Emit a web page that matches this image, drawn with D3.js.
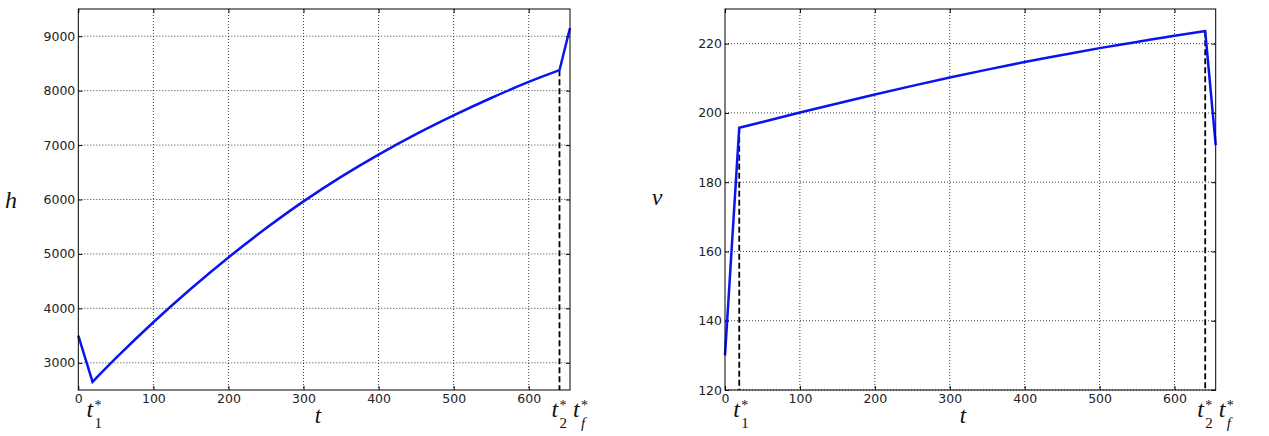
<!DOCTYPE html>
<html>
<head>
<meta charset="utf-8">
<script src="https://cdn.jsdelivr.net/npm/d3@7"></script>
<style>
  body { margin: 0; background: #fff; }
  .tick text { font-family: "DejaVu Sans", sans-serif; font-size: 12.5px; fill: #222; }
  .sym { font-family: "Liberation Serif", serif; font-style: italic; fill: #111; }
</style>
</head>
<body>
<script>
// switching times (s)
var t1 = 19, t2 = 641, tf = 655;

// altitude h(t)
var tH = [0, 19, 50, 100, 150, 200, 250, 300, 350, 400, 450, 500, 550, 600, 641, 655];
var hVals = [3500, 2650, 3084, 3744, 4360, 4935, 5470, 5965, 6415, 6825, 7200, 7545, 7865, 8160, 8376, 9150];

// speed v(t)
var tV = [0, 19, 50, 100, 150, 200, 250, 300, 350, 400, 450, 500, 550, 600, 641, 655];
var vVals = [130, 195.7, 197.4, 200.1, 202.7, 205.3, 207.8, 210.2, 212.5, 214.7, 216.7, 218.7, 220.5, 222.3, 223.6, 190.7];

var xTicks = [0, 100, 200, 300, 400, 500, 600];
var hTicks = [3000, 4000, 5000, 6000, 7000, 8000, 9000];
var vTicks = [120, 140, 160, 180, 200, 220];

var W = 1269, H = 436;
var svg = d3.select("body").append("svg")
    .attr("width", W)
    .attr("height", H);

function panel(opts) {
  var x = d3.scaleLinear().domain([0, tf]).range([opts.x0, opts.x1]);
  var y = d3.scaleLinear().domain(opts.yDomain).range([390, 9]);
  var g = svg.append("g");

  // grid
  g.selectAll(".gx").data(xTicks.filter(function(d){ return d > 0; })).enter()
    .append("line")
      .attr("x1", function(d){ return x(d); }).attr("x2", function(d){ return x(d); })
      .attr("y1", 9).attr("y2", 390)
      .attr("stroke", "#000").attr("stroke-width", 1)
      .attr("stroke-dasharray", "1,2").attr("opacity", 0.75);
  g.selectAll(".gy").data(opts.yTicks).enter()
    .append("line")
      .attr("x1", opts.x0).attr("x2", opts.x1)
      .attr("y1", function(d){ return y(d); }).attr("y2", function(d){ return y(d); })
      .attr("stroke", "#000").attr("stroke-width", 1)
      .attr("stroke-dasharray", "1,2").attr("opacity", 0.75);

  // axes, ticks pointing inward on all sides
  g.append("g").attr("transform", "translate(0,390)")
    .call(d3.axisBottom(x).tickValues(xTicks).tickSize(-4).tickPadding(4).tickFormat(d3.format("d")));
  g.append("g").attr("transform", "translate(0,9)")
    .call(d3.axisTop(x).tickValues(xTicks).tickSize(-4).tickFormat(""));
  g.append("g").attr("transform", "translate(" + opts.x0 + ",0)")
    .call(d3.axisLeft(y).tickValues(opts.yTicks).tickSize(-4).tickPadding(3).tickFormat(d3.format("d")));
  g.append("g").attr("transform", "translate(" + opts.x1 + ",0)")
    .call(d3.axisRight(y).tickValues(opts.yTicks).tickSize(-4).tickFormat(""));
  g.selectAll(".domain").remove();
  g.selectAll(".tick line").attr("stroke", "#000");

  // dashed markers at switching times
  opts.marks.forEach(function(m) {
    g.append("line")
      .attr("x1", x(m[0])).attr("x2", x(m[0]))
      .attr("y1", y(m[1])).attr("y2", 390)
      .attr("stroke", "#000").attr("stroke-width", 1.8)
      .attr("stroke-dasharray", "6,3");
  });

  // curve: straight arcs before t1 and after t2, smooth between
  var pts = d3.zip(opts.t, opts.vals);
  var i1 = opts.t.indexOf(t1), i2 = opts.t.indexOf(t2);
  var lin = d3.line()
    .x(function(d){ return x(d[0]); })
    .y(function(d){ return y(d[1]); });
  var smooth = d3.line()
    .x(function(d){ return x(d[0]); })
    .y(function(d){ return y(d[1]); })
    .curve(d3.curveMonotoneX);
  var d = lin(pts.slice(0, i1 + 1)) +
          smooth(pts.slice(i1, i2 + 1)).replace(/^M[^A-Za-z]*/, "") +
          lin(pts.slice(i2)).replace(/^M[^A-Za-z]*/, "");
  g.append("path")
    .attr("fill", "none")
    .attr("stroke", "#0a14f0")
    .attr("stroke-width", 2.5)
    .attr("stroke-linejoin", "miter")
    .attr("d", d);

  // frame
  g.append("rect")
    .attr("x", opts.x0).attr("y", 9)
    .attr("width", opts.x1 - opts.x0).attr("height", 381)
    .attr("fill", "none").attr("stroke", "#000").attr("stroke-width", 1);

  // axis labels
  g.append("text").attr("class", "sym")
    .attr("x", opts.ylabX).attr("y", opts.ylabY)
    .attr("text-anchor", "middle").style("font-size", "24px")
    .text(opts.ylab);
  g.append("text").attr("class", "sym")
    .attr("x", opts.tlabX).attr("y", 423)
    .attr("text-anchor", "middle").style("font-size", "23px")
    .text("t");

  // t* labels
  starLabel(g, x(t1) - 6, "1");
  starLabel(g, x(t2) - 8, "2");
  starLabel(g, x(tf) + 3, "f");
}

function starLabel(g, px, sub) {
  g.append("text").attr("class", "sym")
    .attr("x", px).attr("y", 417)
    .style("font-size", "24px")
    .text("t");
  g.append("text").attr("class", "sym")
    .attr("x", px + 8).attr("y", 410)
    .style("font-size", "14px").style("font-style", "normal")
    .text("*");
  g.append("text").attr("class", "sym")
    .attr("x", px + 8).attr("y", 428)
    .style("font-size", "15px")
    .style("font-style", sub === "f" ? "italic" : "normal")
    .text(sub);
}

panel({
  x0: 78.3, x1: 570, yDomain: [2500, 9500], yTicks: hTicks,
  t: tH, vals: hVals,
  marks: [[t2, hVals[14]]],
  ylab: "h", ylabX: 11, ylabY: 208, tlabX: 318
});

panel({
  x0: 725, x1: 1215.7, yDomain: [120, 230], yTicks: vTicks,
  t: tV, vals: vVals,
  marks: [[t1, vVals[1]], [t2, vVals[14]]],
  ylab: "v", ylabX: 657, ylabY: 205, tlabX: 963
});
</script>
</body>
</html>
